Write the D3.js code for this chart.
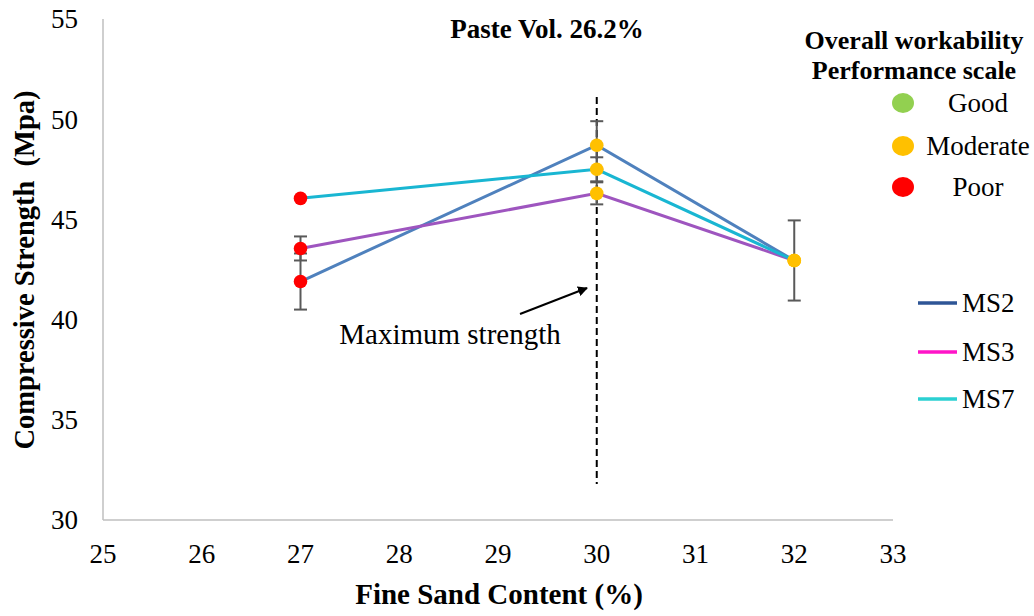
<!DOCTYPE html>
<html>
<head>
<meta charset="utf-8">
<script src="https://cdn.jsdelivr.net/npm/d3@7"></script>
<style>
  html, body { margin: 0; padding: 0; background: #fff; }
  svg { display: block; font-family: "Liberation Serif", "Times New Roman", serif; }
</style>
</head>
<body>
<svg id="chart" width="1034" height="616"></svg>
<script>
// ---- data ----
const fineSand = [27, 30, 32];
const ms2 = [41.9, 48.7, 42.95];
const ms3 = [43.55, 46.3, 42.95];
const ms7 = [46.05, 47.5, 42.95];
const ms2Err = [1.4, 1.2, 2.0];
const ms3Err = [0.6, 0.55, 0];
const ms7Err = [0, 0.6, 0];
const pointClass = ["Poor", "Moderate", "Moderate"];
const seriesNames = ["MS2", "MS3", "MS7"];
const workClasses = ["Good", "Moderate", "Poor"];
const xTicks = [25, 26, 27, 28, 29, 30, 31, 32, 33];
const yTicks = [30, 35, 40, 45, 50, 55];
const maxStrengthX = 30;

// ---- styles ----
const lineColors = { MS2: "#4F81BD", MS3: "#9E55BF", MS7: "#19B6D2" };
const legendLineColors = { MS2: "#2E5596", MS3: "#FF14C8", MS7: "#2BD0D2" };
const classColors = { Good: "#92D050", Moderate: "#FFC000", Poor: "#FF0000" };

const svg = d3.select("#chart");
const x = d3.scaleLinear().domain([25, 33]).range([103, 893]);
const y = d3.scaleLinear().domain([30, 55]).range([520, 19]);

// axes
const axisColor = "#BFBFBF";
svg.append("line").attr("x1", x(25)).attr("x2", x(25)).attr("y1", y(55)).attr("y2", y(30))
  .attr("stroke", axisColor).attr("stroke-width", 1.5);
svg.append("line").attr("x1", x(25)).attr("x2", x(33)).attr("y1", y(30)).attr("y2", y(30))
  .attr("stroke", axisColor).attr("stroke-width", 1.5);

svg.append("g").selectAll("text").data(yTicks).join("text")
  .attr("x", 78).attr("y", d => y(d)).attr("dy", "0.35em")
  .attr("text-anchor", "end").attr("font-size", 27).attr("fill", "#000")
  .text(d => d);

svg.append("g").selectAll("text").data(xTicks).join("text")
  .attr("x", d => x(d)).attr("y", 563)
  .attr("text-anchor", "middle").attr("font-size", 27).attr("fill", "#000")
  .text(d => d);

// axis titles
svg.append("text").attr("x", 499).attr("y", 604).attr("text-anchor", "middle")
  .attr("font-size", 29).attr("font-weight", "bold").text("Fine Sand Content (%)");
svg.append("text").attr("transform", "translate(34,270) rotate(-90)").attr("text-anchor", "middle")
  .attr("font-size", 28.5).attr("font-weight", "bold").attr("xml:space", "preserve")
  .text("Compressive Strength  (Mpa)");

// chart title
svg.append("text").attr("x", 547).attr("y", 38).attr("text-anchor", "middle")
  .attr("font-size", 27).attr("font-weight", "bold").text("Paste Vol. 26.2%");

// dashed max-strength line
svg.append("line").attr("x1", x(maxStrengthX)).attr("x2", x(maxStrengthX))
  .attr("y1", 97).attr("y2", 484)
  .attr("stroke", "#000").attr("stroke-width", 2).attr("stroke-dasharray", "7,4");

// series
const series = [
  { name: "MS2", vals: ms2, err: ms2Err },
  { name: "MS3", vals: ms3, err: ms3Err },
  { name: "MS7", vals: ms7, err: ms7Err }
];
const line = d3.line().x(d => x(d[0])).y(d => y(d[1]));

// error bars
const errG = svg.append("g");
series.forEach(s => {
  s.vals.forEach((v, i) => {
    const e = s.err[i];
    if (!e) return;
    const cx = x(fineSand[i]);
    errG.append("line").attr("x1", cx).attr("x2", cx).attr("y1", y(v + e)).attr("y2", y(v - e))
      .attr("stroke", "#595959").attr("stroke-width", 2);
    [v + e, v - e].forEach(t => {
      errG.append("line").attr("x1", cx - 6.5).attr("x2", cx + 6.5).attr("y1", y(t)).attr("y2", y(t))
        .attr("stroke", "#595959").attr("stroke-width", 2);
    });
  });
});

series.forEach(s => {
  svg.append("path").datum(fineSand.map((f, i) => [f, s.vals[i]]))
    .attr("d", line).attr("fill", "none")
    .attr("stroke", lineColors[s.name]).attr("stroke-width", 3);
});

// points
series.forEach(s => {
  svg.append("g").selectAll("circle").data(fineSand.map((f, i) => [f, s.vals[i], pointClass[i]]))
    .join("circle").attr("cx", d => x(d[0])).attr("cy", d => y(d[1])).attr("r", 6.8)
    .attr("fill", d => classColors[d[2]]);
});

// arrow annotation
svg.append("defs").append("marker").attr("id", "arrow").attr("viewBox", "0 0 10 10")
  .attr("refX", 9).attr("refY", 5).attr("markerWidth", 5).attr("markerHeight", 5)
  .attr("orient", "auto-start-reverse")
  .append("path").attr("d", "M0,0 L10,5 L0,10 z").attr("fill", "#000");
svg.append("line").attr("x1", 520).attr("y1", 314).attr("x2", 587).attr("y2", 288)
  .attr("stroke", "#000").attr("stroke-width", 2).attr("marker-end", "url(#arrow)");
svg.append("text").attr("x", 450).attr("y", 344).attr("text-anchor", "middle")
  .attr("font-size", 29).text("Maximum strength");

// workability legend
svg.append("text").attr("x", 914).attr("y", 49).attr("text-anchor", "middle")
  .attr("font-size", 26).attr("font-weight", "bold").text("Overall workability");
svg.append("text").attr("x", 914).attr("y", 79).attr("text-anchor", "middle")
  .attr("font-size", 26).attr("font-weight", "bold").text("Performance scale");
const wl = svg.append("g");
const wlY = [103, 146, 187];
workClasses.forEach((c, i) => {
  wl.append("ellipse").attr("cx", 903).attr("cy", wlY[i]).attr("rx", 11).attr("ry", 10)
    .attr("fill", classColors[c]);
  wl.append("text").attr("x", 978).attr("y", wlY[i]).attr("dy", "0.35em")
    .attr("text-anchor", "middle").attr("font-size", 27).text(c);
});

// series legend
const slY = [303, 352, 399];
seriesNames.forEach((n, i) => {
  svg.append("line").attr("x1", 918).attr("x2", 957).attr("y1", slY[i]).attr("y2", slY[i])
    .attr("stroke", legendLineColors[n]).attr("stroke-width", 3.5);
  svg.append("text").attr("x", 962).attr("y", slY[i]).attr("dy", "0.35em")
    .attr("font-size", 27).text(n);
});
</script>
</body>
</html>
